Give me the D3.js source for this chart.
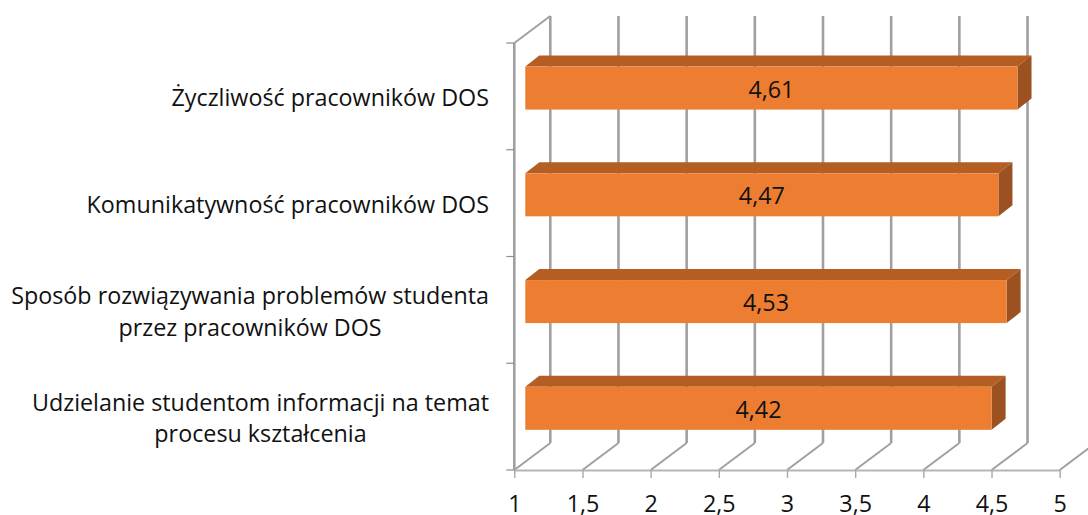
<!DOCTYPE html>
<html>
<head>
<meta charset="utf-8">
<script src="https://cdnjs.cloudflare.com/ajax/libs/d3/7.8.5/d3.min.js"></script>
<style>
    html, body { margin: 0; padding: 0; background: #fff; overflow: hidden; }
    text { font-family: "Open Sans", Lato, sans-serif; fill: #111; }
</style>
</head>
<body>
<div id="chart"></div>
<script>
// chart values, top bar first
let categories = [
    ["Życzliwość pracowników DOS"],
    ["Komunikatywność pracowników DOS"],
    ["Sposób rozwiązywania problemów studenta", "przez pracowników DOS"],
    ["Udzielanie studentom informacji na temat", "procesu kształcenia"]
];
let values = [4.61, 4.47, 4.53, 4.42];
let xTicks = [1, 1.5, 2, 2.5, 3, 3.5, 4, 4.5, 5];

let width = 1088;
let height = 515;
let fontSize = 23.3;

// depth of the fake 3d box, and how far the bars sit inside it
let depthX = 36, depthY = 27;
let barInsetX = 11, barInsetY = 8.3;
let barDepthX = 14, barDepthY = 11;
let barHeight = 43;

let commaNum = d => String(d).replace(".", ",");

let x = d3.scaleLinear().domain([1, 5]).range([514.3, 1059.7]);
let y = d3.scaleBand().domain(d3.range(categories.length)).range([43, 470]);

let svg = d3.select("#chart").append("svg")
    .attr("width", width)
    .attr("height", height);

let gridColor = "#a0a0a0";

// back wall verticals and the diagonals running down to the axis
let grid = svg.append("g").attr("fill", "none").attr("stroke", gridColor);

grid.selectAll(".back")
    .data(xTicks)
    .enter().append("line")
    .attr("class", "back")
    .attr("x1", d => x(d) + depthX).attr("x2", d => x(d) + depthX)
    .attr("y1", y.range()[0] - depthY).attr("y2", y.range()[1] - depthY)
    .attr("stroke-width", 2.6);

grid.selectAll(".diag")
    .data(xTicks)
    .enter().append("line")
    .attr("class", "diag")
    .attr("x1", d => x(d)).attr("x2", d => x(d) + depthX)
    .attr("y1", y.range()[1]).attr("y2", y.range()[1] - depthY)
    .attr("stroke-width", 2);

// left wall
grid.append("line")
    .attr("x1", x(1)).attr("x2", x(1))
    .attr("y1", y.range()[0]).attr("y2", y.range()[1])
    .attr("stroke-width", 2.6);
grid.append("line")
    .attr("x1", x(1)).attr("x2", x(1) + depthX)
    .attr("y1", y.range()[0]).attr("y2", y.range()[0] - depthY)
    .attr("stroke-width", 2);

// category ticks on the left
grid.selectAll(".ytick")
    .data(d3.range(categories.length + 1))
    .enter().append("line")
    .attr("class", "ytick")
    .attr("x1", x(1) - 8).attr("x2", x(1))
    .attr("y1", d => y.range()[0] + d * y.step())
    .attr("y2", d => y.range()[0] + d * y.step())
    .attr("stroke", "#8c8c8c")
    .attr("stroke-width", 1.2);

// x axis
let xAxis = svg.append("g")
    .attr("transform", "translate(0," + y.range()[1] + ")")
    .call(d3.axisBottom(x).tickValues(xTicks).tickSize(8).tickSizeOuter(0).tickPadding(17).tickFormat(commaNum));
xAxis.select(".domain").attr("stroke", "#b5b5b5").attr("stroke-width", 2.2);
xAxis.selectAll("line").attr("stroke", "#a8a8a8").attr("stroke-width", 1.4);
xAxis.selectAll("text")
    .style("font-family", '"Open Sans", Lato, sans-serif')
    .style("font-size", fontSize + "px")
    .style("fill", "#111");

// bars, each one a front, top and side face
let bars = svg.selectAll(".bar")
    .data(values)
    .enter().append("g")
    .attr("class", "bar")
    .attr("transform", (d, i) => {
        let top = y(i) + y.bandwidth() / 2 - barHeight / 2 - barInsetY;
        return "translate(" + (x(1) + barInsetX) + "," + top + ")";
    });

let barW = d => x(d) - x(1);

bars.append("path")
    .attr("fill", "#b55e24")
    .attr("d", d => "M0,0L" + barDepthX + "," + (-barDepthY) + "H" + (barW(d) + barDepthX) + "L" + barW(d) + ",0Z");
bars.append("path")
    .attr("fill", "#9b5120")
    .attr("d", d => "M" + barW(d) + ",0L" + (barW(d) + barDepthX) + "," + (-barDepthY) + "V" + (barHeight - barDepthY) + "L" + barW(d) + "," + barHeight + "Z");
bars.append("rect")
    .attr("width", barW)
    .attr("height", barHeight)
    .attr("fill", "#ed7d31");
bars.append("text")
    .attr("x", d => barW(d) / 2)
    .attr("y", barHeight / 2 + 1.5)
    .attr("dy", "0.35em")
    .attr("text-anchor", "middle")
    .attr("font-size", fontSize)
    .text(commaNum);

// category labels: lines centred on each other, block ends at the right edge
let labelRight = 489;
let lineGap = 31.5;
let labels = svg.selectAll(".label")
    .data(categories)
    .enter().append("text")
    .attr("class", "label")
    .attr("font-size", fontSize)
    .attr("text-anchor", "middle");

labels.each(function (lines, i) {
    let label = d3.select(this);
    let mid = y(i) + y.bandwidth() / 2 + (lines.length == 1 ? 1.5 : -14);
    lines.forEach((line, j) => {
        label.append("tspan")
            .attr("y", mid + j * lineGap)
            .attr("dy", "0.35em")
            .text(line);
    });
    let widest = d3.max(label.selectAll("tspan").nodes(), n => n.getComputedTextLength());
    label.selectAll("tspan").attr("x", labelRight - widest / 2);
});
</script>
</body>
</html>
